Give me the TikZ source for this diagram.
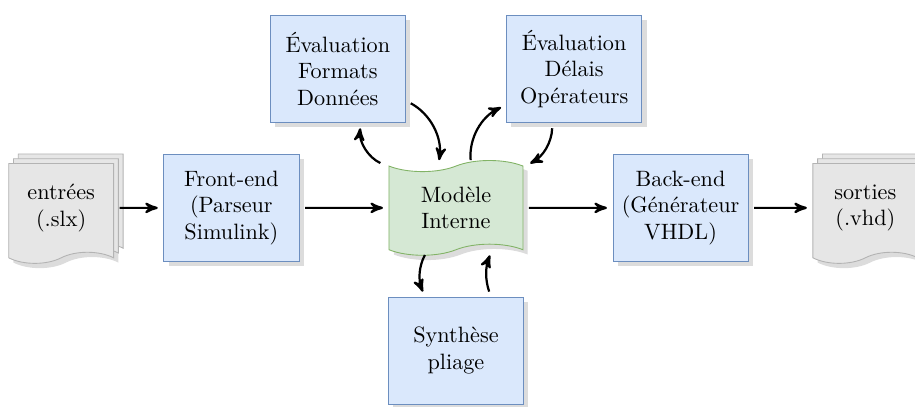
\documentclass[tikz,border=0pt]{standalone}
\usepackage{xcolor}
\usepackage{tikz}
\usetikzlibrary{shapes,shadows,arrows,positioning,calc}
\definecolor{boxblue}{RGB}{218,232,252}
\definecolor{boxblueline}{RGB}{108,142,191}
\definecolor{modelgreen}{RGB}{213,232,212}
\definecolor{modelgreenline}{RGB}{130,179,102}
\definecolor{docgray}{RGB}{230,230,230}
\definecolor{docgrayline}{RGB}{179,179,179}
\definecolor{shadowgray}{RGB}{220,220,220}
\tikzset{
    block/.style={
        rectangle,
        draw=boxblueline,
        fill=boxblue,
        minimum width=2.14cm,
        minimum height=1.69cm,
        align=center,
        drop shadow={fill=shadowgray, opacity=1}
    },
    model/.style={
        tape,
        draw=modelgreenline,
        fill=modelgreen,
        minimum width=2.12cm,
        minimum height=1.5cm,
        align=center,
        drop shadow={fill=shadowgray, opacity=1}
    },
    docstack/.style={
        tape,
        tape bend top=none,
        draw=docgrayline,
        fill=docgray,
        minimum width=1.66cm,
        minimum height=1.58cm,
        align=center,
        drop shadow={fill=shadowgray, opacity=1},
        double copy shadow={shadow xshift=.5ex, shadow yshift=.5ex}
    },
    flow/.style={
        ->,
        >=stealth',
        line width=1pt,
        shorten >=2.5pt,
        shorten <=2.5pt
    }
}

\begin{document}
\begin{tikzpicture}[node distance=1.41cm]
\useasboundingbox (-7.216,-3.149) rectangle (7.264,3.29);

% Modele interne
\node[model] (modele) at (0,0) {Modèle\\Interne};

% Front-end et Back-end
\node[block, left=of modele] (front-end) {Front-end\\(Parseur\\Simulink)};
\node[block, right=of modele] (back-end) {Back-end\\(Générateur\\VHDL)};

% Entrees et sorties
\node[docstack, left=0.78cm of front-end] (in-doc) {entrées\\(.slx)};
\node[docstack, right=1.01cm of back-end] (out-doc) {sorties\\(.vhd)};

% Evaluations
\node[block, above=0.68cm of modele, xshift=-1.87cm] (eval-formats) {Évaluation\\Formats\\Données};
\node[block, above=0.68cm of modele, xshift=1.87cm] (eval-delais) {Évaluation\\Délais\\Opérateurs};

% Synthese
\node[block, below=0.74cm of modele] (synthese) {Synthèse\\pliage};

\draw[flow] (in-doc) -- (front-end);
\draw[flow] (front-end) -- (modele);
\draw[flow] (modele) -- (back-end);
\draw[flow] (back-end) -- (out-doc);

\draw[flow] ([xshift=-0.05cm]modele.north west) to[bend left=35] (eval-formats.-67);
\draw[flow] (eval-formats.-25) to[bend left=35] ([xshift=-0.28cm]modele.north);
\draw[flow] ([xshift=0.24cm]modele.north) to[bend left=35] (eval-delais.-152);
\draw[flow] (eval-delais.-112) to[bend left=30] ([xshift=0.03cm]modele.north east);
\draw[flow] ([xshift=-0.45cm]modele.south) to[bend right=25] (synthese.120);
\draw[flow] (synthese.57) to[bend left=20] ([xshift=0.57cm]modele.south);
\end{tikzpicture}
\end{document}
